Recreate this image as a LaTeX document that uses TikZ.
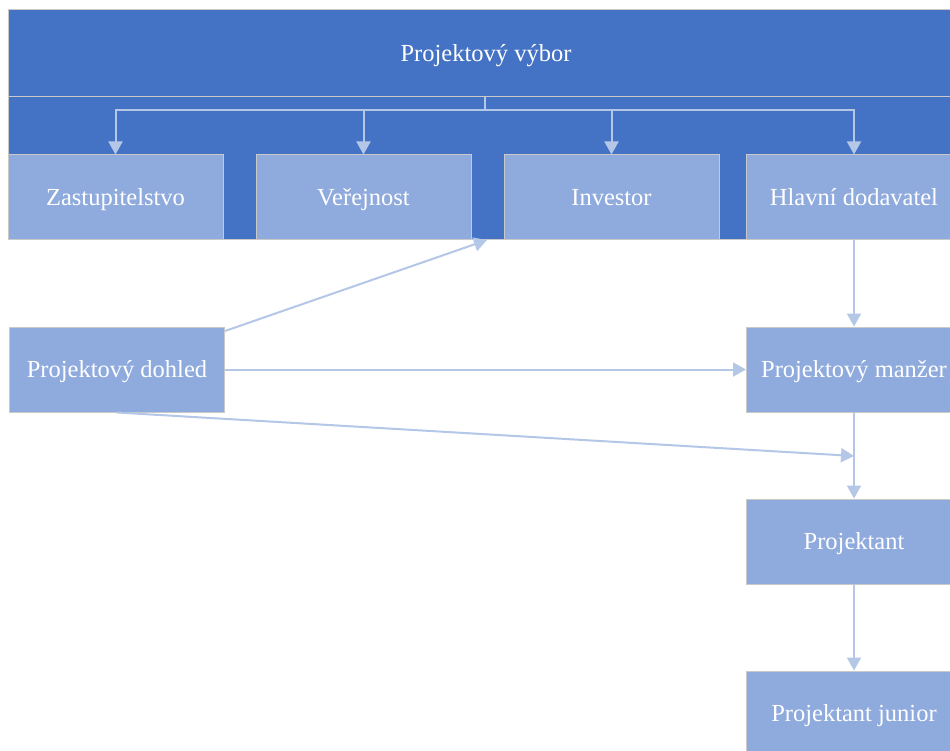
\documentclass[tikz,border=0pt]{standalone}
\usepackage{fontspec}
\setmainfont{Liberation Serif}
\usetikzlibrary{arrows.meta}
\definecolor{darkblue}{HTML}{4472C4}
\definecolor{lightbox}{HTML}{8FAADC}
\definecolor{conn}{HTML}{B4C7E7}
\definecolor{edge}{HTML}{C9C9C9}
\begin{document}
\begin{tikzpicture}[x=1pt,y=-1pt,
  lbl/.style={text=white, font=\fontsize{24.5}{28}\selectfont, text height=19.5pt, text depth=3pt},
  box/.style={rectangle, fill=lightbox, draw=edge, line width=1pt, minimum width=215pt, minimum height=85pt, inner sep=0pt, lbl},
  conline/.style={draw=conn, line width=2pt},
  arr/.style={conline, -{Triangle[width=14pt,length=13pt]}}]
\clip (0,0) rectangle (950,751);
\fill[white] (0,0) rectangle (950,751);
% container
\fill[darkblue, draw=edge, line width=1pt] (8,97) rectangle (964,240);
\node[rectangle, fill=darkblue, draw=edge, line width=1pt, minimum width=956pt, minimum height=87pt, inner sep=0pt, lbl] (vybor) at (486,53.5) {Projektový výbor};
% row boxes
\node[box] (zast) at (115.5,197.5) {Zastupitelstvo};
\node[box] (verej) at (363.5,197.5) {Veřejnost};
\node[box] (inv) at (611.5,197.5) {Investor};
\node[box] (hlav) at (854,197.5) {Hlavní dodavatel};
\node[box] (dohled) at (117,369.5) {Projektový dohled};
\node[box] (manzer) at (854,369.5) {Projektový manžer};
\node[box] (projektant) at (854,541.5) {Projektant};
\node[box] (junior) at (854,713.5) {Projektant junior};
% tree connectors
\coordinate (split) at (485,110);
\draw[conline] (485,97) -- (split);
\draw[arr] (split) -| (zast.north);
\draw[arr] (split) -| (verej.north);
\draw[arr] (split) -| (inv.north);
\draw[arr] (split) -| (hlav.north);
% other connectors
\coordinate (gap) at (487,240);
\coordinate (mid) at (854,456);
\draw[arr] (hlav.south) -- (manzer.north);
\draw[arr] (dohled.east |- 0,331) -- (gap);
\draw[arr] (dohled.east) -- (manzer.west);
\draw[arr] (dohled.south) -- (mid);
\draw[arr] (manzer.south) -- (projektant.north);
\draw[arr] (projektant.south) -- (junior.north);
\end{tikzpicture}
\end{document}
